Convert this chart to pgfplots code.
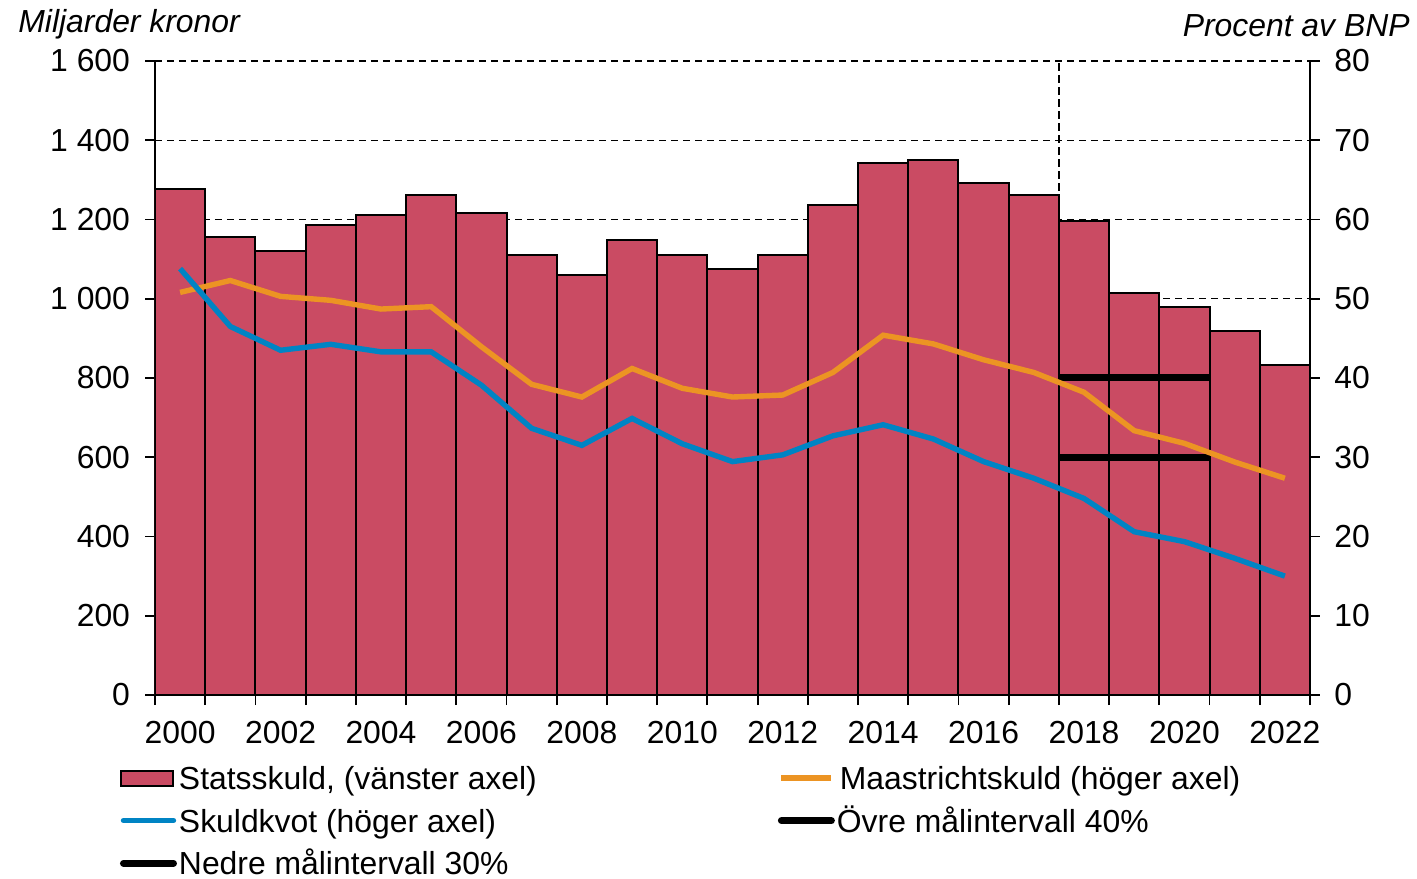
\documentclass[border=0pt]{standalone}
\usepackage{pgfplots}
\pgfplotsset{compat=1.18}
\usepackage{fontspec}
\setmainfont{Liberation Sans}
\definecolor{barred}{RGB}{202,75,99}
\definecolor{morange}{RGB}{236,148,35}
\definecolor{sblue}{RGB}{0,132,196}

\pgfplotstableread{
year debt
2000 1276
2001 1156
2002 1121
2003 1186
2004 1211
2005 1262
2006 1217
2007 1110
2008 1060
2009 1147
2010 1110
2011 1076
2012 1110
2013 1237
2014 1342
2015 1351
2016 1292
2017 1261
2018 1196
2019 1014
2020 979
2021 919
2022 833
}\debttable

\pgfplotstableread{
year maas kvot
2000 50.8 53.8
2001 52.3 46.5
2002 50.3 43.5
2003 49.8 44.25
2004 48.7 43.3
2005 49.0 43.3
2006 43.95 39.1
2007 39.2 33.65
2008 37.6 31.5
2009 41.2 34.9
2010 38.7 31.7
2011 37.6 29.45
2012 37.85 30.3
2013 40.7 32.7
2014 45.4 34.1
2015 44.3 32.3
2016 42.3 29.45
2017 40.7 27.35
2018 38.2 24.8
2019 33.35 20.6
2020 31.75 19.35
2021 29.4 17.25
2022 27.35 15.0
}\ratiotable

\pgfplotsset{
  lineimg/.style={legend image code/.code={\draw[##1] (1bp,0bp) -- (26bp,0bp);}},
  barimg/.style={legend image code/.code={\draw[##1] (0bp,-3.75bp) rectangle (26bp,3.75bp);}},
  common/.style={
    width=577.5bp, height=317bp, scale only axis,
    xmin=1999.5, xmax=2022.5,
    font=\fontsize{16}{19}\selectfont,
    /pgf/number format/assume math mode=true,
    tick align=outside,
    major tick length=5bp, minor tick length=5bp,
    every tick/.style={black, line width=0.9bp},
    axis line style={black, line width=0.9bp},
  },
}

\begin{document}
\begin{tikzpicture}
\useasboundingbox (-77.5bp,-92bp) rectangle (631bp,347.5bp);
\begin{axis}[common,
  axis x line*=bottom, axis y line*=left,
  ymin=0, ymax=1600, ytick={0,200,...,1600},
  yticklabel style={/pgf/number format/1000 sep={\hspace{0.28em}}, xshift=-4bp},
  ymajorgrids,
  grid style={black, line width=0.7bp, dash pattern=on 3.5bp off 2.5bp},
  xtick={2000,2002,...,2022},
  minor xtick={1999.5,2000.5,...,2022.5},
  major x tick style={draw=none},
  xticklabel style={/pgf/number format/1000 sep={}, yshift=-4.5bp},
  legend columns=2,
  legend cell align=left,
  legend style={at={(-0.0303,-0.0974)}, anchor=north west, draw=none, fill=none,
    inner sep=0pt, outer sep=0pt, row sep=0pt, column sep=0pt,
    font=\fontsize{16}{19}\selectfont,
    nodes={inner xsep=1bp, inner ysep=0pt, text height=16.4bp, text depth=4.9bp},
    /tikz/every even column/.append style={column sep=119.5bp}},
]
\addplot[ybar, bar width=1, fill=barred, draw=black, line width=1bp, barimg]
  table[x=year, y=debt] {\debttable};
\addlegendentry{Statsskuld, (vänster axel)}
\addlegendimage{morange, line width=2.7bp, lineimg}
\addlegendentry{\hspace{1.5bp}Maastrichtskuld (höger axel)}
\addlegendimage{sblue, line width=2.7bp, line cap=round, lineimg}
\addlegendentry{Skuldkvot (höger axel)}
\addlegendimage{black, line width=3.5bp, line cap=round, lineimg}
\addlegendentry{Övre målintervall 40\%}
\addlegendimage{black, line width=3.5bp, line cap=round, lineimg}
\addlegendentry{Nedre målintervall 30\%}
\addplot[black, line width=1.3bp, dash pattern=on 4bp off 2bp, forget plot]
  coordinates {(2017.5,0) (2017.5,1600)};
\end{axis}

\begin{axis}[common,
  axis x line=none, axis y line*=right,
  ymin=0, ymax=80, ytick={0,10,...,80},
  yticklabel style={xshift=3.7bp},
]
\addplot[black, line width=3.5bp] coordinates {(2017.5,40) (2020.5,40)};
\addplot[black, line width=3.5bp] coordinates {(2017.5,30) (2020.5,30)};
\addplot[morange, line width=2.7bp] table[x=year, y=maas] {\ratiotable};
\addplot[sblue, line width=2.7bp] table[x=year, y=kvot] {\ratiotable};
\end{axis}

\node[anchor=base west, inner sep=0pt, font=\fontsize{16}{19}\selectfont\itshape] at (-68.5bp,331bp) {Miljarder kronor};
\node[anchor=base east, inner sep=0pt, font=\fontsize{16}{19}\selectfont\itshape] at (627.5bp,329bp) {Procent av BNP};
\end{tikzpicture}
\end{document}
